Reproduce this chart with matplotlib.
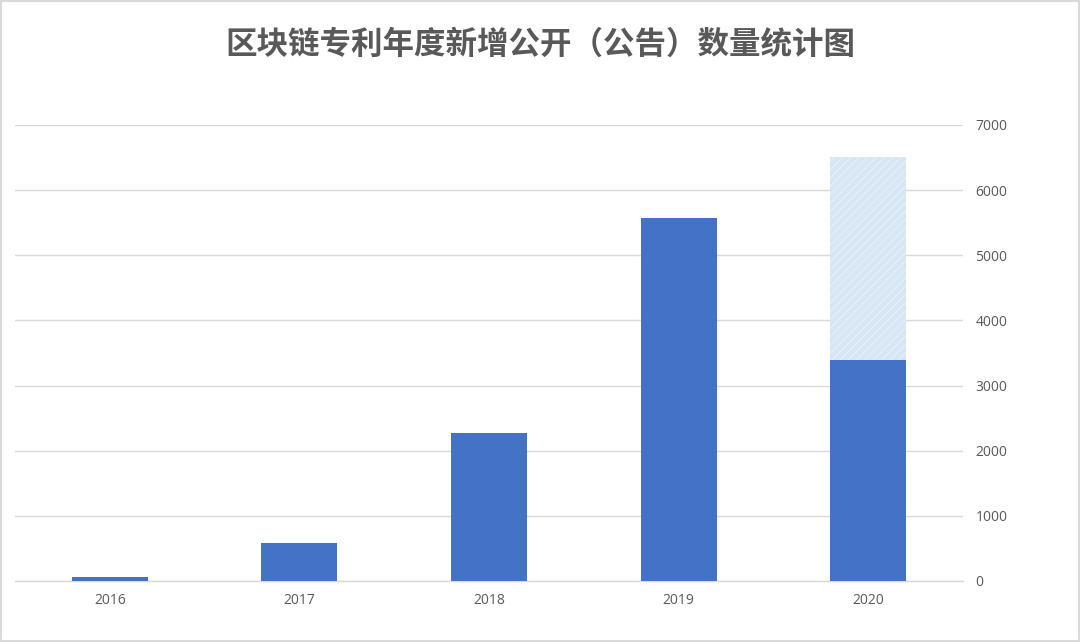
import matplotlib
matplotlib.use("Agg")
import matplotlib.pyplot as plt
from matplotlib.patches import Rectangle

years = ["2016", "2017", "2018", "2019", "2020"]
published = [60, 585, 2270, 5575, 3395]
forecast = [0, 0, 0, 0, 3115]
yticks = [0, 1000, 2000, 3000, 4000, 5000, 6000, 7000]
title = "区块链专利年度新增公开（公告）数量统计图"

plt.rcParams['font.family'] = ['Noto Sans CJK SC', 'DejaVu Sans']

fig = plt.figure(figsize=(10.8, 6.42), dpi=100)
ax = fig.add_axes([15/1080, 1-581/642, (963-15)/1080, (581-125)/642])

x = list(range(len(years)))
ax.bar(x, published, width=0.4, color="#4472C4", zorder=3)
ax.bar(x, forecast, width=0.4, bottom=published, color="#D6E6F4", zorder=3,
       hatch="////", edgecolor="#E4EEF8", linewidth=0)

ax.set_xlim(-0.5, len(years) - 0.5)
ax.set_ylim(0, 7000)
ax.set_yticks(yticks)
ax.yaxis.tick_right()
ax.set_xticks(x)
ax.set_xticklabels(years)
ax.tick_params(axis='both', length=0, labelsize=10, colors="#595959")
for lab in ax.get_xticklabels() + ax.get_yticklabels():
    lab.set_family(['Open Sans', 'DejaVu Sans'])
ax.tick_params(axis='y', pad=9)
ax.tick_params(axis='x', pad=9)
ax.grid(axis='y', color="#D9D9D9", linewidth=1, zorder=0)
for s in ["top", "left", "right"]:
    ax.spines[s].set_visible(False)
ax.spines["bottom"].set_color("#D9D9D9")
ax.spines["bottom"].set_linewidth(1)

fig.text(0.5, 1-45/642, title, ha="center", va="center", fontsize=22.7,
         fontweight="bold", color="#595959")

fig.patches.append(Rectangle((0.001, 0.001), 0.998, 0.997, transform=fig.transFigure,
                             fill=False, edgecolor="#D9D9D9", linewidth=1.5))

fig.savefig("out.png", dpi=100)
